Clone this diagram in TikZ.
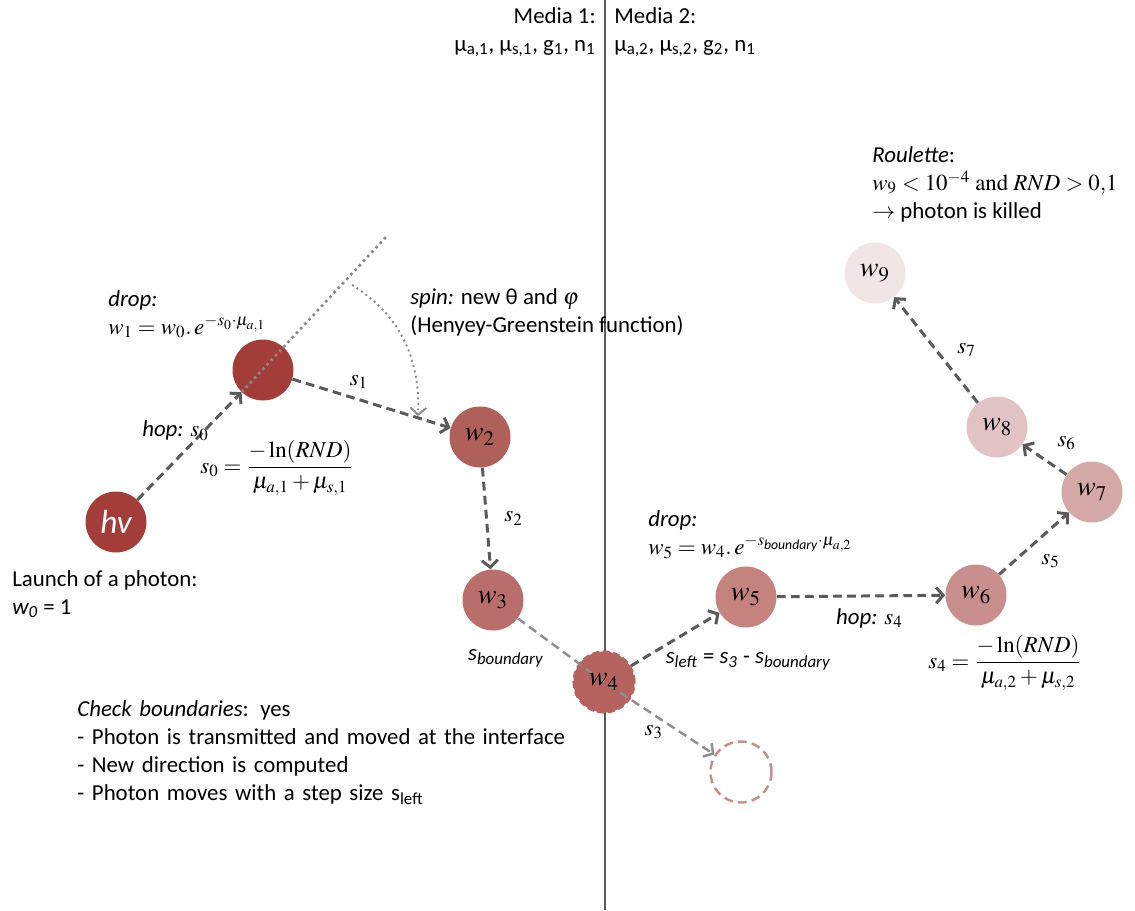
\documentclass[tikz,border=0pt]{standalone}
\usepackage{amsmath}
\usepackage{mathptmx}
\usepackage[no-math]{fontspec}
\setmainfont{Carlito}
\usepackage{tikz}
\usetikzlibrary{arrows.meta,positioning}

\definecolor{linegray}{HTML}{5A5A5A}
\definecolor{lightline}{HTML}{8E8E8E}
\definecolor{dotgray}{HTML}{8A8A8A}
\definecolor{red0}{HTML}{A33D3A}
\definecolor{red2}{HTML}{B0605A}
\definecolor{red3}{HTML}{B96E6B}
\definecolor{red4}{HTML}{B6625F}
\definecolor{red5}{HTML}{C4837F}
\definecolor{red6}{HTML}{C88F8C}
\definecolor{red7}{HTML}{D3A8A6}
\definecolor{red8}{HTML}{E0C3C2}
\definecolor{red9}{HTML}{F2E5E5}
\definecolor{ghostred}{HTML}{C48F8D}

\tikzset{
	photon/.style={circle,minimum size=1.22cm,inner sep=0pt,font=\fontsize{16}{16}\selectfont},
	hop/.style={->,draw=linegray,line width=1.7pt,dash pattern=on 5pt off 3pt},
	hoplight/.style={->,draw=lightline,line width=1.4pt,dash pattern=on 5pt off 3pt},
	txt/.style={anchor=north west,align=left,inner sep=0pt}
}

\begin{document}
\begin{tikzpicture}[x=0.02cm,y=-0.02cm,font=\fontsize{13}{16}\selectfont,>={Straight Barb[length=4pt,width=9pt]}]
			\useasboundingbox (0,0) rectangle (1135,910);

			% interface between the two media
			\coordinate (top) at (605,0);
			\coordinate (bottom) at (605,910);
			\draw[linegray,line width=0.9pt] (top) -- (bottom);

			\node[anchor=north east,align=right,inner sep=0pt] (media1) at (596,7) {Media 1:\\μ\textsubscript{a,1}, μ\textsubscript{s,1}, g\textsubscript{1}, n\textsubscript{1}};
			\node[txt] (media2) at (614,7) {Media 2:\\μ\textsubscript{a,2}, μ\textsubscript{s,2}, g\textsubscript{2}, n\textsubscript{1}};

			% photon positions
			\node[photon,fill=red0,text=white] (hv) at (116,522) {\fontsize{19}{19}\selectfont\itshape hv};
			\node[photon,fill=red0] (w1) at (263,370) {};
			\node[photon,fill=red2] (w2) at (480,437) {$w_2$};
			\node[photon,fill=red3] (w3) at (493,600) {$w_3$};
			\node[photon,fill=red4,draw=red0!80,line width=1.2pt,dash pattern=on 4pt off 2pt] (w4) at (604,682) {};
			\node[photon,draw=ghostred,line width=1.4pt,dash pattern=on 5pt off 3pt] (ghost) at (741,772) {};
			\node[photon,fill=red5] (w5) at (746,597) {$w_5$};
			\node[photon,fill=red6] (w6) at (976,595) {$w_6$};
			\node[photon,fill=red7] (w7) at (1092,492) {$w_7$};
			\node[photon,fill=red8] (w8) at (997,427) {$w_8$};
			\node[photon,fill=red9] (w9) at (875,273) {$w_9$};

			% spin
			\coordinate (ext) at (386,237);
			\coordinate (arcstart) at (352,285);
			\coordinate (arcend) at (418,416);
			\draw[dotgray,line width=1.5pt,dotted] (w1.226) -- (ext);
			\draw[->,dotgray,line width=1.1pt,dotted] (arcstart) .. controls (405,318) and (420,365) .. (arcend);

			% steps
			\path[hop] (hv) -- node[pos=.62,anchor=south east,xshift=8pt,yshift=-8.5pt] {\textit{hop:} $s_0$} (w1);
			\path[hop] (w1) -- node[pos=.42,above=2pt] {$s_1$} (w2);
			\path[hop] (w2) -- node[midway,right=6pt] {$s_2$} (w3);
			\path[hoplight] (w3) -- node[pos=.38,below left=0pt and 0pt] {\textit{s\textsubscript{boundary}}} (w4.center) -- node[pos=.45,below=2pt] {$s_3$} (ghost);
			\node[font=\fontsize{16}{16}\selectfont] (w4label) at (w4) {$w_4$};
			\path[hop] (w4) -- node[pos=.25,anchor=north west,xshift=3pt,yshift=4pt] {\textit{s\textsubscript{left}} = \textit{s\textsubscript{3}} - \textit{s\textsubscript{boundary}}} (w5);
			\path[hop] (w5) -- node[pos=.55,below=3pt] {\textit{hop:} $s_4$} (w6);
			\path[hop] (w6) -- node[pos=.45,below right=0pt and 2pt] {$s_5$} (w7);
			\path[hop] (w7) -- node[pos=.45,above right=2pt and 2pt] {$s_6$} (w8);
			\path[hop] (w8) -- node[midway,right=8pt] {$s_7$} (w9);

			% annotations
			\node (s0eq) at (277,468) {$s_0 = \dfrac{-\ln(RND)}{\mu_{a,1}+\mu_{s,1}}$};
			\node (s4eq) at (1005,663) {$s_4 = \dfrac{-\ln(RND)}{\mu_{a,2}+\mu_{s,2}}$};
			\node[txt] (drop1) at (108,290) {\textit{drop:}\\ $w_1 = w_0.\,e^{-s_0\cdot\mu_{a,1}}$};
			\node[txt] (spin) at (410,288) {\textit{spin:} new θ and $\varphi$\\(Henyey-Greenstein function)};
			\node[txt] (drop5) at (648,510) {\textit{drop:}\\ $w_5 = w_4.\,e^{-s_{\textit{boundary}}\cdot\mu_{a,2}}$};
			\node[txt] (roulette) at (872,146) {\textit{Roulette}:\\$w_9 < 10^{-4}\ \mathrm{and}\ RND > 0{,}1$\\$\rightarrow$ photon is killed};
			\node[txt] (launch) at (12,570) {Launch of a photon:\\\textit{w\textsubscript{0}} = 1};
			\node[txt,text width=10.5cm] (check) at (77,700) {\textit{Check boundaries}: yes\\
				- Photon is transmitted and moved at the interface\\
				- New direction is computed\\
				- Photon moves with a step size s\textsubscript{left}};
		\end{tikzpicture}
\end{document}
